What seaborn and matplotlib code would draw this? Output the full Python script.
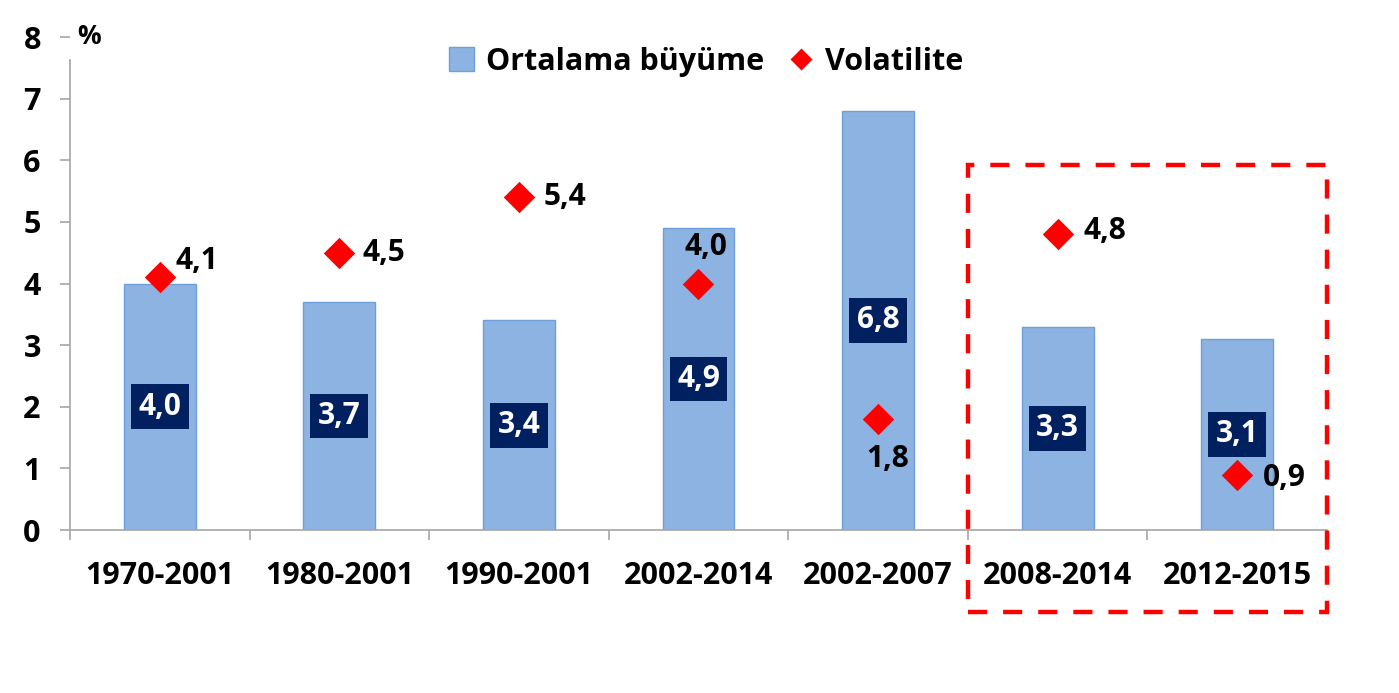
import matplotlib
matplotlib.use("Agg")
import matplotlib.pyplot as plt
import seaborn as sns
import pandas as pd
from matplotlib.patches import Rectangle
from matplotlib.lines import Line2D
from matplotlib.patches import Patch

categories = ["1970-2001", "1980-2001", "1990-2001", "2002-2014", "2002-2007", "2008-2014", "2012-2015"]
growth = [4.0, 3.7, 3.4, 4.9, 6.8, 3.3, 3.1]
volatility = [4.1, 4.5, 5.4, 4.0, 1.8, 4.8, 0.9]
yticks = [0, 1, 2, 3, 4, 5, 6, 7, 8]

sns.set_theme(style="white")
plt.rcParams['font.family'] = ['Open Sans', 'DejaVu Sans']
plt.rcParams['text.color'] = 'black'

df = pd.DataFrame({"cat": categories, "growth": growth, "vol": volatility})

fig = plt.figure(figsize=(13.99, 6.93), dpi=100)
ax = fig.add_axes([0.050, 0.2352, 0.8985, 0.7114])

BAR = "#8DB3E2"
EDGE = "#6E9FDB"
NAVY = "#002060"
FS = 22
VFS = 21.5

sns.barplot(data=df, x="cat", y="growth", color=BAR, width=0.4, ax=ax,
            edgecolor=EDGE, linewidth=1, saturation=1)
sns.stripplot(data=df, x="cat", y="vol", jitter=False, marker="D", color="#FF0000",
              size=16, linewidth=0, ax=ax, zorder=5)

ax.set_xlim(-0.5, len(categories) - 0.5)
ax.set_ylim(0, 8)
ax.set_yticks(yticks)
ax.set_yticklabels([str(t) for t in yticks], fontsize=FS, fontweight="bold", color="black")
ax.set_xticks(range(len(categories)))
ax.set_xticklabels(categories, fontsize=FS, fontweight="bold", color="black")
ax.set_xlabel("")
ax.set_ylabel("")

for s in ["top", "right"]:
    ax.spines[s].set_visible(False)
for s in ["left", "bottom"]:
    ax.spines[s].set_color("#A6A6A6")
    ax.spines[s].set_linewidth(1.2)
ax.spines["left"].set_bounds(0, 7.63)

ax.tick_params(axis="y", which="major", left=True, length=7, width=1.2, color="#A6A6A6", pad=14)
ax.tick_params(axis="x", which="major", bottom=False, pad=16)
ax.set_xticks([i - 0.5 for i in range(len(categories) + 1)], minor=True)
ax.tick_params(axis="x", which="minor", bottom=True, length=7, width=1.2, color="#A6A6A6")

# bar value labels
for i, v in enumerate(growth):
    ax.text(i, v / 2, f"{v:.1f}".replace(".", ","), ha="center", va="center",
            fontsize=VFS, fontweight="bold", color="white", zorder=6,
            bbox=dict(boxstyle="square,pad=0.25", fc=NAVY, ec="none"))

# volatility labels: (dx px, dy data, ha)
offsets = [(16, 0.26, "left"), (23, 0.0, "left"), (25, 0.0, "left"),
           (7, 0.6, "center"), (10, -0.65, "center"), (26, 0.06, "left"),
           (26, -0.06, "left")]
for i, v in enumerate(volatility):
    dx, dy, ha = offsets[i]
    ax.annotate(f"{v:.1f}".replace(".", ","), xy=(i, v + dy), xytext=(dx * 0.72, 0),
                textcoords="offset points", ha=ha, va="center",
                fontsize=VFS, fontweight="bold", color="black", zorder=6)

rect = Rectangle((4.5, -1.33), 2.0, 7.25, fill=False, edgecolor="#FF0000", linewidth=3.2,
                 linestyle=(0, (4.3, 3.6)), clip_on=False, zorder=7)
ax.add_patch(rect)

fig.text(0.0636, 0.948, "%", fontsize=19, fontweight="bold", ha="center", va="center",
         color="black")

handles = [Patch(facecolor=BAR, edgecolor=EDGE, label="Ortalama büyüme"),
           Line2D([0], [0], marker="D", color="none", markerfacecolor="#FF0000",
                  markeredgecolor="none", markersize=11, label="Volatilite")]
fig.legend(handles=handles, loc="center", bbox_to_anchor=(0.505, 0.911), ncol=2,
           frameon=False, prop={"size": FS, "weight": "bold"}, labelcolor="black",
           handlelength=0.8, handleheight=0.8, handletextpad=0.4, columnspacing=0.8)

fig.savefig("out.png", dpi=100)
